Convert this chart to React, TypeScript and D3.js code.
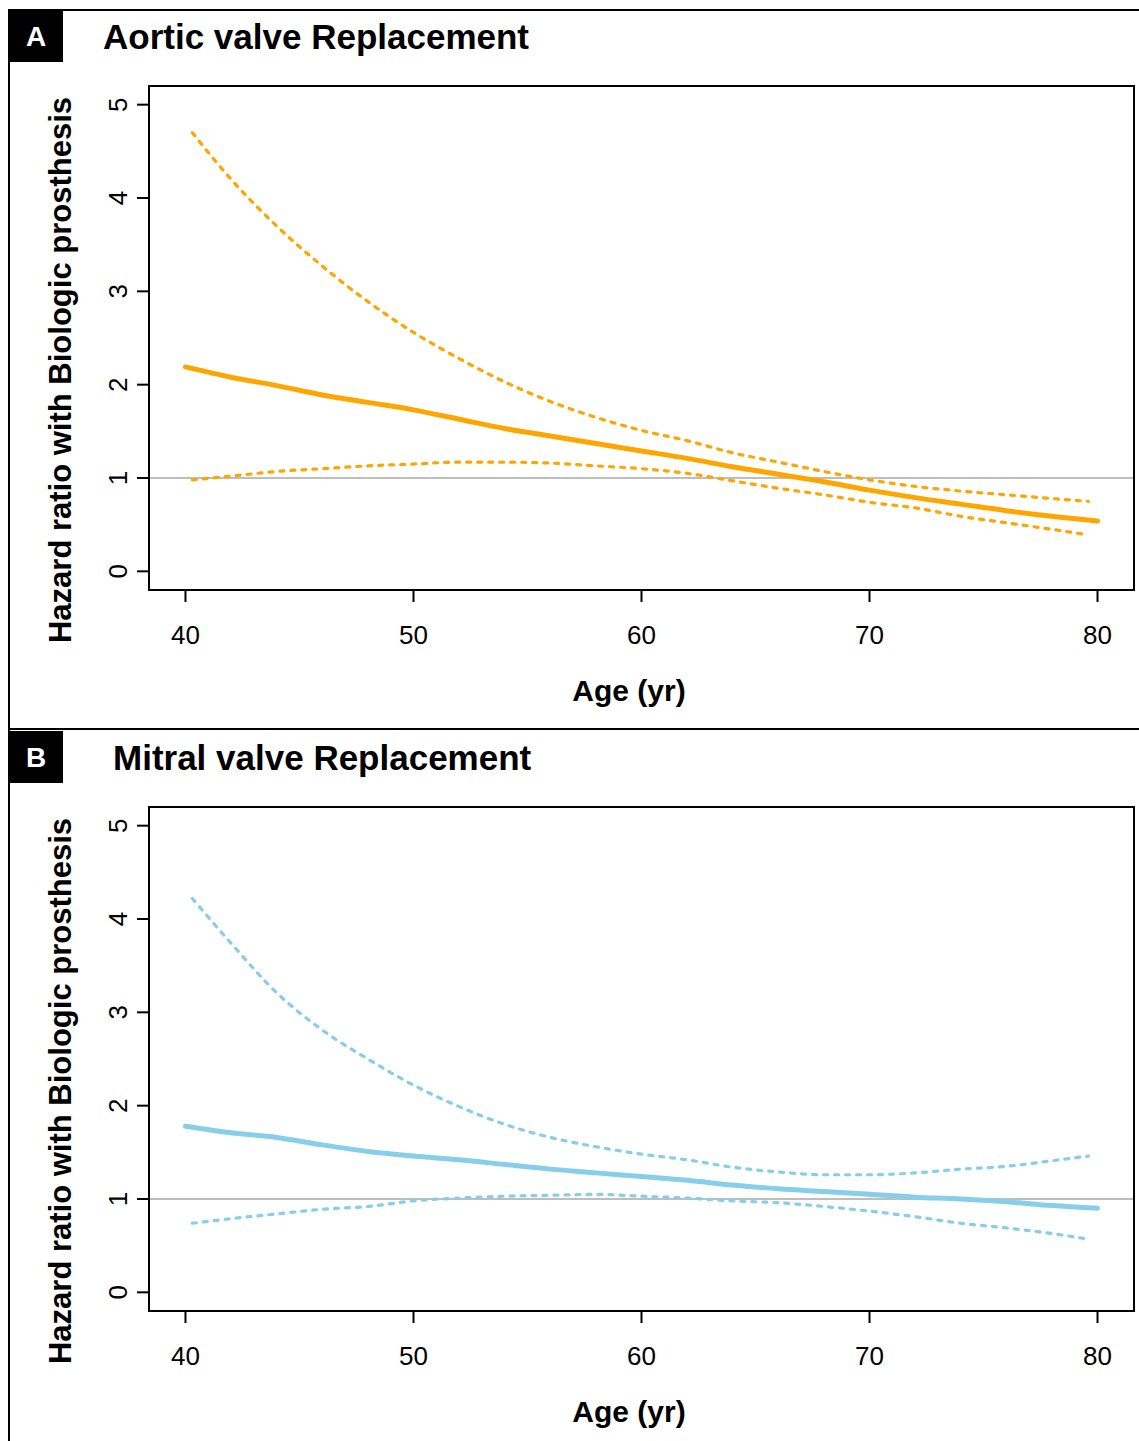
import React from 'react';
import * as d3 from 'd3';

// age grid for the estimate curves and the confidence bands
const ages = [40, 42, 44, 46, 48, 50, 52, 54, 56, 58, 60, 62, 64, 66, 68, 70, 72, 74, 76, 78, 80];
const ciAges = [40.3, 42, 44, 46, 48, 50, 52, 54, 56, 58, 60, 62, 64, 66, 68, 70, 72, 74, 76, 78, 79.6];

// Aortic valve replacement
const aorticHR = [2.19, 2.08, 1.99, 1.89, 1.81, 1.73, 1.63, 1.53, 1.45, 1.37, 1.29, 1.21, 1.12, 1.04, 0.96, 0.87, 0.79, 0.72, 0.65, 0.59, 0.54];
const aorticUpper = [4.7, 4.2, 3.7, 3.27, 2.89, 2.56, 2.28, 2.03, 1.82, 1.65, 1.51, 1.4, 1.27, 1.17, 1.07, 0.98, 0.91, 0.86, 0.82, 0.78, 0.75];
const aorticLower = [0.98, 1.02, 1.07, 1.1, 1.13, 1.15, 1.17, 1.17, 1.16, 1.13, 1.1, 1.05, 0.97, 0.89, 0.82, 0.74, 0.68, 0.59, 0.52, 0.45, 0.39];

// Mitral valve replacement
const mitralHR = [1.78, 1.71, 1.66, 1.58, 1.51, 1.46, 1.42, 1.37, 1.32, 1.28, 1.24, 1.2, 1.15, 1.11, 1.08, 1.05, 1.02, 1.0, 0.97, 0.93, 0.9];
const mitralUpper = [4.22, 3.74, 3.21, 2.81, 2.5, 2.22, 1.99, 1.8, 1.66, 1.56, 1.48, 1.42, 1.34, 1.29, 1.26, 1.26, 1.28, 1.32, 1.35, 1.41, 1.46];
const mitralLower = [0.74, 0.79, 0.84, 0.89, 0.92, 0.98, 1.01, 1.03, 1.04, 1.05, 1.03, 1.01, 0.98, 0.96, 0.92, 0.87, 0.81, 0.74, 0.69, 0.63, 0.57];

const xTicks = [40, 50, 60, 70, 80];
const yTicks = [0, 1, 2, 3, 4, 5];

const font = 'Liberation Sans, Arial, Helvetica, sans-serif';

const Panel = ({ dy, letter, title, titleX, hr, upper, lower, color }) => {
  const left = 149, right = 1134, top = 86 + dy, bottom = 590 + dy;
  // R style axes: 4% padding on both ends
  const x = d3.scaleLinear().domain([38.4, 81.6]).range([left, right]);
  const y = d3.scaleLinear().domain([-0.2, 5.2]).range([bottom, top]);

  const line = d3.line().x(d => x(d[0])).y(d => y(d[1])).curve(d3.curveMonotoneX);
  const est = line(ages.map((a, i) => [a, hr[i]]));
  const up = line(ciAges.map((a, i) => [a, upper[i]]));
  const lo = line(ciAges.map((a, i) => [a, lower[i]]));

  return (
    <g>
      <rect x={9} y={10 + dy} width={54} height={52} fill="#000" />
      <text x={36} y={46 + dy} fill="#fff" fontSize={28} fontWeight="bold" textAnchor="middle" fontFamily={font}>{letter}</text>
      <text x={titleX} y={49 + dy} fontSize={35} fontWeight="bold" fontFamily={font}>{title}</text>

      <line x1={left} x2={right} y1={y(1)} y2={y(1)} stroke="#bebebe" strokeWidth={2} />

      <path d={up} fill="none" stroke={color} strokeWidth={3.2} strokeDasharray="4,7" strokeLinecap="round" />
      <path d={lo} fill="none" stroke={color} strokeWidth={3.2} strokeDasharray="4,7" strokeLinecap="round" />
      <path d={est} fill="none" stroke={color} strokeWidth={5} strokeLinecap="round" />

      <rect x={left} y={top} width={right - left} height={bottom - top} fill="none" stroke="#000" strokeWidth={2} />

      {xTicks.map(t => (
        <g key={'x' + t}>
          <line x1={x(t)} x2={x(t)} y1={bottom} y2={bottom + 12} stroke="#000" strokeWidth={2} />
          <text x={x(t)} y={bottom + 54} fontSize={26} textAnchor="middle" fontFamily={font}>{t}</text>
        </g>
      ))}
      {yTicks.map(t => (
        <g key={'y' + t}>
          <line x1={left} x2={left - 12} y1={y(t)} y2={y(t)} stroke="#000" strokeWidth={2} />
          <text transform={`translate(127,${y(t)}) rotate(-90)`} fontSize={26} textAnchor="middle" fontFamily={font}>{t}</text>
        </g>
      ))}

      <text x={629} y={701 + dy} fontSize={30} fontWeight="bold" textAnchor="middle" fontFamily={font}>Age (yr)</text>
      <text transform={`translate(71,${370 + dy}) rotate(-90)`} fontSize={31} fontWeight="bold" textAnchor="middle" fontFamily={font}>
        Hazard ratio with Biologic prosthesis
      </text>
    </g>
  );
};

export default function App() {
  return (
    <svg width={1139} height={1441} style={{ position: 'absolute', left: 0, top: 0, background: '#fff' }}>
      <rect x={0} y={0} width={1139} height={1441} fill="#fff" />
      <line x1={9} x2={1139} y1={10} y2={10} stroke="#000" strokeWidth={2} />
      <line x1={9} x2={1139} y1={729} y2={729} stroke="#000" strokeWidth={2} />
      <line x1={9} x2={9} y1={9} y2={1441} stroke="#000" strokeWidth={2} />
      <Panel dy={0} letter="A" title="Aortic valve Replacement" titleX={103}
        hr={aorticHR} upper={aorticUpper} lower={aorticLower} color="#ffa500" />
      <Panel dy={721} letter="B" title="Mitral valve Replacement" titleX={113}
        hr={mitralHR} upper={mitralUpper} lower={mitralLower} color="#87ceeb" />
    </svg>
  );
}
